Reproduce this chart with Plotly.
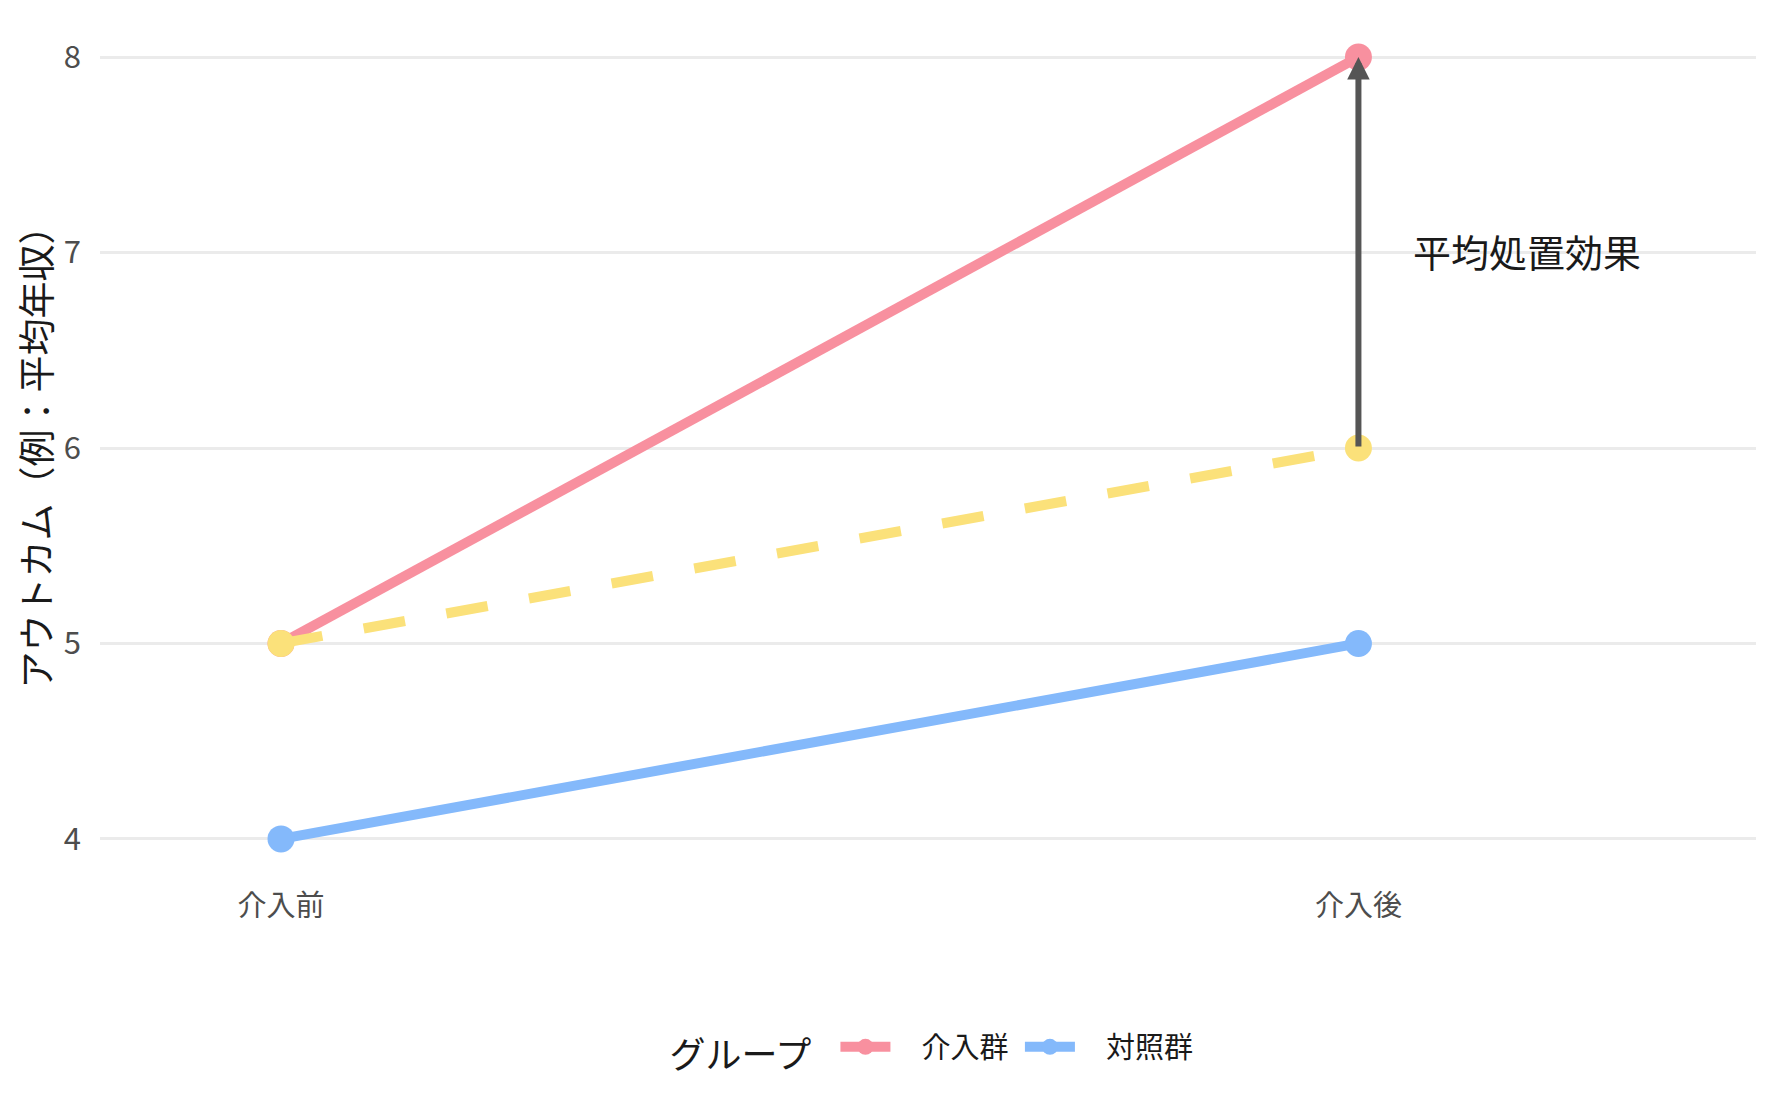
import plotly.graph_objects as go

# data
periods = ["介入前", "介入後"]
period_pos = [1, 2]
treat_vals = [5, 8]
control_vals = [4, 5]
counterfactual_vals = [5, 6]
group_names = ["介入群", "対照群"]
effect_label = "平均処置効果"
effect_label_pos = (2.156, 7.01)

pink = "#F8909F"
blue = "#84B9FB"
yellow = "#FBE17A"
font_jp = "Noto Sans CJK JP"
pad = "\u00a0" * 4  # gap between legend symbol and label

fig = go.Figure()

fig.add_trace(go.Scatter(
    x=period_pos, y=treat_vals, mode="lines+markers", name=pad + group_names[0] + "\u00a0",
    line=dict(color=pink, width=10), marker=dict(size=27, color=pink)))

fig.add_trace(go.Scatter(
    x=period_pos, y=control_vals, mode="lines+markers", name=pad + group_names[1],
    line=dict(color=blue, width=10), marker=dict(size=27, color=blue)))

# counterfactual trend for the treated group
fig.add_trace(go.Scatter(
    x=period_pos, y=counterfactual_vals, mode="lines+markers",
    line=dict(color=yellow, width=10, dash="42px,42px"),
    marker=dict(size=27, color=yellow), showlegend=False, hoverinfo="skip"))

# arrow from counterfactual to observed
fig.add_annotation(
    x=period_pos[1], y=treat_vals[1], ax=period_pos[1], ay=counterfactual_vals[1],
    xref="x", yref="y", axref="x", ayref="y", text="",
    showarrow=True, arrowhead=2, arrowsize=0.75, arrowwidth=6, arrowcolor="#555555")

fig.add_annotation(
    x=effect_label_pos[0], y=effect_label_pos[1], xref="x", yref="y",
    text=effect_label, showarrow=False,
    font=dict(family=font_jp, size=38, color="#1a1a1a"))

fig.update_layout(
    width=1777, height=1117,
    margin=dict(l=92, r=29, t=10, b=247),
    paper_bgcolor="white", plot_bgcolor="white",
    font=dict(family=font_jp, color="#1a1a1a"),
    legend=dict(orientation="h", x=0.503, xanchor="center", y=-0.2, yanchor="middle",
                title=dict(text="グループ\u00a0\u00a0", side="left", font=dict(size=36, color="#1a1a1a")),
                font=dict(size=29, color="#1a1a1a"), itemwidth=50),
    xaxis=dict(range=[0.832, 2.369], tickvals=period_pos, ticktext=periods,
               showgrid=False, zeroline=False, showline=False, ticks="",
               tickfont=dict(size=29, color="#4D4D4D"), ticklabelstandoff=8),
    yaxis=dict(range=[3.8, 8.2], tickvals=[4, 5, 6, 7, 8],
               showgrid=True, gridcolor="#EBEBEB", gridwidth=2.5,
               zeroline=False, showline=False, ticks="",
               tickfont=dict(size=31, color="#4D4D4D"), ticklabelstandoff=18,
               title=dict(text="アウトカム（例：平均年収）", standoff=12,
                          font=dict(size=37, color="#1a1a1a"))),
)

fig.write_html("out.html")
